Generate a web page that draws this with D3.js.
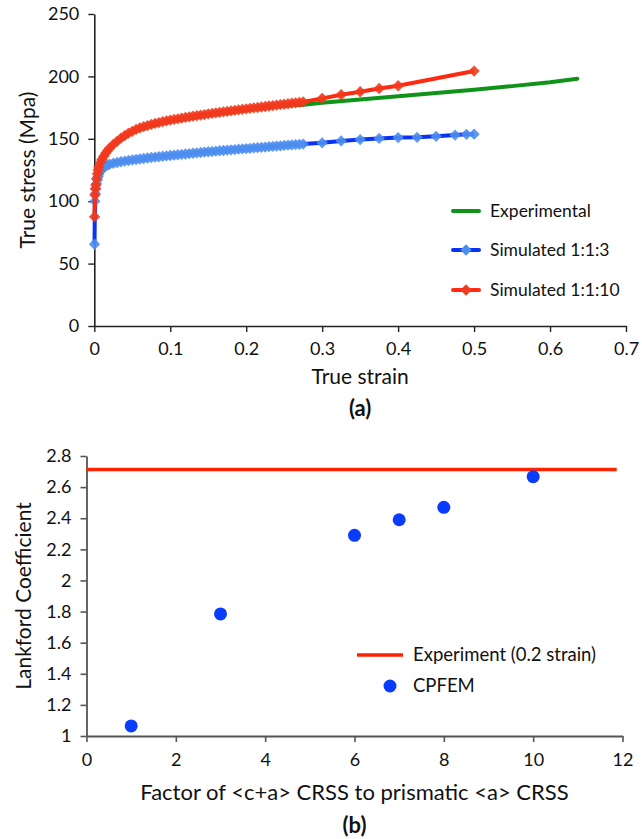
<!DOCTYPE html>
<html><head><meta charset="utf-8">
<script src="https://cdn.jsdelivr.net/npm/d3@7"></script>
<style>
html,body{margin:0;padding:0;background:#fff;}
svg{display:block;font-family:Lato,"Open Sans",sans-serif;}
</style></head>
<body>
<svg id="chart" width="642" height="839"></svg>
<script>
// ---------- Data: panel (a) ----------
const expStrain = [0.0003,0.002,0.005,0.01,0.02,0.03,0.05,0.075,0.1,0.15,0.2,0.25,0.275,0.3,0.35,0.4,0.45,0.5,0.55,0.6,0.636];
const expStress = [86,110,123,132.5,141.5,147,155,160.5,164,168.9,173,176.6,177.3,178.9,181.5,184,186.7,189.3,192.2,195.3,198.2];

const simStrain = [0.0003,0.0008,0.0015,0.002,0.003,0.004,0.005,0.006,0.008,0.01,0.0125,0.015,0.0175,0.02,0.025,0.03,0.035,0.04,0.045,0.05,0.055,0.06,0.065,0.07,0.075,0.08,0.085,0.09,0.095,0.1,0.105,0.11,0.115,0.12,0.125,0.13,0.135,0.14,0.145,0.15,0.155,0.16,0.165,0.17,0.175,0.18,0.185,0.19,0.195,0.2,0.205,0.21,0.215,0.22,0.225,0.23,0.235,0.24,0.245,0.25,0.255,0.26,0.265,0.27,0.275];

const sim3Stress = [65.5,100,106,110,114,117,119.5,121.5,124,125.8,127.2,128.2,129,129.6,130.4,131,131.6,132.1,132.6,133,133.4,133.8,134.2,134.6,135,135.3,135.6,136,136.3,136.6,136.9,137.2,137.5,137.8,138.1,138.4,138.7,139,139.3,139.6,139.8,140.1,140.4,140.6,140.9,141.2,141.4,141.7,141.9,142.2,142.4,142.7,142.9,143.2,143.4,143.7,143.9,144.2,144.4,144.7,144.9,145.1,145.4,145.6,145.8];
const sim3TailStrain = [0.3,0.325,0.35,0.375,0.4,0.425,0.45,0.475,0.49,0.5];
const sim3TailStress = [146.8,148.3,149.4,150.3,151,151.2,152,153,153.6,153.7];

const sim10Stress = [87.5,105,110,113,118,122,125,127.5,131,133.5,136,138.5,140.5,142.5,145.5,148,150.5,152.5,154.5,156,157.5,158.7,159.7,160.6,161.5,162.3,163,163.7,164.3,165,165.5,166,166.6,167.1,167.6,168.1,168.5,169,169.4,169.9,170.3,170.8,171.2,171.6,172,172.4,172.8,173.2,173.6,174,174.4,174.8,175.1,175.5,175.9,176.3,176.6,177,177.4,177.7,178.1,178.5,178.8,179.2,179.6];
const sim10TailStrain = [0.3,0.325,0.35,0.375,0.4,0.5];
const sim10TailStress = [182.4,185.3,187.7,190.3,192.5,204.3];

const xTicksA = [0,0.1,0.2,0.3,0.4,0.5,0.6,0.7];
const yTicksA = [0,50,100,150,200,250];
const legendA = ["Experimental","Simulated 1:1:3","Simulated 1:1:10"];

// ---------- Data: panel (b) ----------
const factor = [1,3,6,7,8,10];
const lankford = [1.065,1.785,2.29,2.39,2.47,2.667];
const experimentR = 2.714;
const experimentRange = [0,11.87];
const xTicksB = [0,2,4,6,8,10,12];
const yTicksB = [1,1.2,1.4,1.6,1.8,2,2.2,2.4,2.6,2.8];
const legendB = ["Experiment (0.2 strain)","CPFEM"];

// ---------- Drawing ----------
const svg = d3.select("#chart");
const fmt = d => String(+(+d).toFixed(2));

const C = {
  green:"#0f9419", blueLine:"#0a32f5", blueMark:"#4c8ef0",
  redLine:"#ff2a10", redMark:"#f23a1e", dot:"#0a3cff", expLine:"#ff2200"
};

// ===== Panel (a) =====
const xA = d3.scaleLinear().domain([0,0.7]).range([94.3,626]);
const yA = d3.scaleLinear().domain([0,250]).range([326,14]);
const gA = svg.append("g");

const axA_y = gA.append("g").attr("transform",`translate(${xA(0)},0)`)
  .call(d3.axisLeft(yA).tickValues(yTicksA).tickFormat(fmt).tickSize(6).tickPadding(9).tickSizeOuter(0));
const axA_x = gA.append("g").attr("transform",`translate(0,${yA(0)})`)
  .call(d3.axisBottom(xA).tickValues(xTicksA).tickFormat(fmt).tickSize(6).tickPadding(10).tickSizeOuter(0));
[axA_y,axA_x].forEach(a=>{
  a.select(".domain").attr("stroke","#222").attr("stroke-width",1.6);
  a.selectAll(".tick line").attr("stroke","#222").attr("stroke-width",1.4);
  a.selectAll(".tick text").attr("font-size",18).attr("fill","#111").attr("font-family","Lato, sans-serif");
});

const lineA = d3.line().x(d=>xA(d[0])).y(d=>yA(d[1]));
const expPts = expStrain.map((s,i)=>[s,expStress[i]]);
const s3Pts = simStrain.map((s,i)=>[s,sim3Stress[i]]).concat(sim3TailStrain.map((s,i)=>[s,sim3TailStress[i]]));
const s10Pts = simStrain.map((s,i)=>[s,sim10Stress[i]]).concat(sim10TailStrain.map((s,i)=>[s,sim10TailStress[i]]));

const diamond = d3.symbol().type(d3.symbolSquare).size(64);

gA.append("path").datum(expPts).attr("d",lineA).attr("fill","none")
  .attr("stroke",C.green).attr("stroke-width",4).attr("stroke-linejoin","round").attr("stroke-linecap","round");

function series(pts, lineColor, markColor){
  gA.append("path").datum(pts).attr("d",lineA).attr("fill","none")
    .attr("stroke",lineColor).attr("stroke-width",4).attr("stroke-linejoin","round");
  gA.append("g").selectAll("path").data(pts).join("path")
    .attr("d",diamond)
    .attr("transform",d=>`translate(${xA(d[0])},${yA(d[1])}) rotate(45)`)
    .attr("fill",markColor).attr("fill-opacity",0.9);
}
series(s3Pts, C.blueLine, C.blueMark);
series(s10Pts, C.redLine, C.redMark);

// Legend (a)
const legA = gA.append("g");
const legAy = [211,250,290];
const legAcol = [[C.green,null],[C.blueLine,C.blueMark],[C.redLine,C.redMark]];
legendA.forEach((t,i)=>{
  legA.append("line").attr("x1",453).attr("x2",479).attr("y1",legAy[i]).attr("y2",legAy[i])
    .attr("stroke",legAcol[i][0]).attr("stroke-width",4).attr("stroke-linecap","round");
  if(legAcol[i][1]) legA.append("path").attr("d",diamond)
    .attr("transform",`translate(466,${legAy[i]}) rotate(45)`).attr("fill",legAcol[i][1]);
  legA.append("text").attr("x",490).attr("y",legAy[i]).attr("dy","0.35em")
    .attr("font-size",17.5).attr("fill","#111").text(t);
});

gA.append("text").attr("transform",`translate(35,${(yA(0)+yA(250))/2}) rotate(-90)`)
  .attr("text-anchor","middle").attr("font-size",21).attr("fill","#111").text("True stress (Mpa)");
gA.append("text").attr("x",(xA(0)+xA(0.7))/2).attr("y",384)
  .attr("text-anchor","middle").attr("font-size",21).attr("fill","#111").text("True strain");
gA.append("text").attr("x",(xA(0)+xA(0.7))/2).attr("y",416)
  .attr("text-anchor","middle").attr("font-size",22).attr("font-weight","bold").attr("fill","#111").text("(a)");

// ===== Panel (b) =====
const xB = d3.scaleLinear().domain([0,12]).range([86.5,622.5]);
const yB = d3.scaleLinear().domain([1,2.8]).range([736,456]);
const gB = svg.append("g");

const axB_y = gB.append("g").attr("transform",`translate(${xB(0)},0)`)
  .call(d3.axisLeft(yB).tickValues(yTicksB).tickFormat(fmt).tickSize(6).tickPadding(9).tickSizeOuter(0));
const axB_x = gB.append("g").attr("transform",`translate(0,${yB(1)})`)
  .call(d3.axisBottom(xB).tickValues(xTicksB).tickFormat(fmt).tickSize(6).tickPadding(11).tickSizeOuter(0));
[axB_y,axB_x].forEach(a=>{
  a.select(".domain").attr("stroke","#555").attr("stroke-width",1.8);
  a.selectAll(".tick line").attr("stroke","#555").attr("stroke-width",1.6);
  a.selectAll(".tick text").attr("font-size",18).attr("fill","#111").attr("font-family","Lato, sans-serif");
});

gB.append("line").attr("x1",xB(experimentRange[0])).attr("x2",xB(experimentRange[1]))
  .attr("y1",yB(experimentR)).attr("y2",yB(experimentR))
  .attr("stroke",C.expLine).attr("stroke-width",3.5);

gB.append("g").selectAll("circle").data(factor).join("circle")
  .attr("cx",d=>xB(d)).attr("cy",(d,i)=>yB(lankford[i])).attr("r",6.5).attr("fill",C.dot);

// Legend (b)
gB.append("line").attr("x1",357).attr("x2",403).attr("y1",655).attr("y2",655)
  .attr("stroke",C.expLine).attr("stroke-width",3.5);
gB.append("text").attr("x",413).attr("y",655).attr("dy","0.35em").attr("font-size",18.5).attr("fill","#111").text(legendB[0]);
gB.append("circle").attr("cx",390).attr("cy",686).attr("r",6.5).attr("fill",C.dot);
gB.append("text").attr("x",413).attr("y",686).attr("dy","0.35em").attr("font-size",18.5).attr("fill","#111").text(legendB[1]);

gB.append("text").attr("transform",`translate(31,${(yB(1)+yB(2.8))/2}) rotate(-90)`)
  .attr("text-anchor","middle").attr("font-size",21).attr("fill","#111").text("Lankford Coefficient");
gB.append("text").attr("x",(xB(0)+xB(12))/2).attr("y",800)
  .attr("text-anchor","middle").attr("font-size",22).attr("fill","#111").text("Factor of <c+a> CRSS to prismatic <a> CRSS");
gB.append("text").attr("x",(xB(0)+xB(12))/2).attr("y",833)
  .attr("text-anchor","middle").attr("font-size",22).attr("font-weight","bold").attr("fill","#111").text("(b)");
</script>
</body></html>
